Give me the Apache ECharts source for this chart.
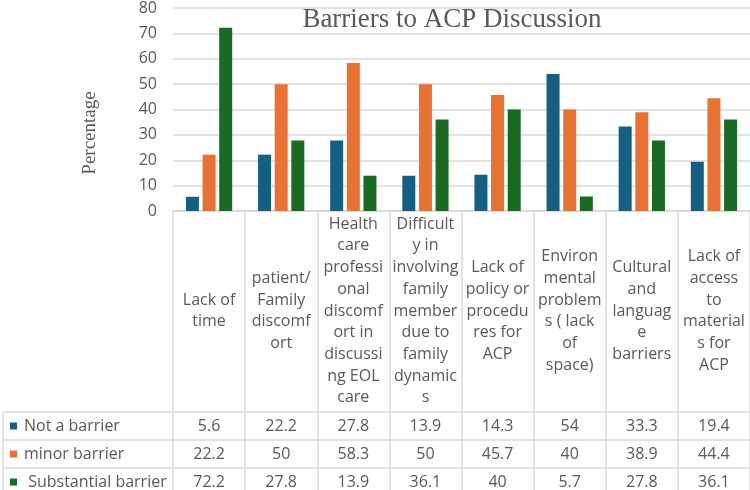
<!DOCTYPE html>
<html>
<head>
<meta charset="utf-8">
<script src="https://cdn.jsdelivr.net/npm/echarts@6/dist/echarts.min.js"></script>
<style>
html,body{margin:0;padding:0;background:#fff;}
#chart{width:750px;height:490px;}
</style>
</head>
<body>
<div id="chart"></div>
<script>
var categories = [
  "Lack of\ntime",
  "patient/\nFamily\ndiscomf\nort",
  "Health\ncare\nprofessi\nonal\ndiscomf\nort in\ndiscussi\nng EOL\ncare",
  "Difficult\ny in\ninvolving\nfamily\nmember\ndue to\nfamily\ndynamic\ns",
  "Lack of\npolicy or\nprocedu\nres for\nACP",
  "Environ\nmental\nproblem\ns ( lack\nof\nspace)",
  "Cultural\nand\nlanguag\ne\nbarriers",
  "Lack of\naccess\nto\nmaterial\ns for\nACP"
];
var seriesNames = ["Not a barrier", "minor barrier", " Substantial barrier"];
var notBarrier = [5.6, 22.2, 27.8, 13.9, 14.3, 54, 33.3, 19.4];
var minorBarrier = [22.2, 50, 58.3, 50, 45.7, 40, 38.9, 44.4];
var substantialBarrier = [72.2, 27.8, 13.9, 36.1, 40, 5.7, 27.8, 36.1];
var yTicks = [0, 10, 20, 30, 40, 50, 60, 70, 80];

var colors = ["#156082", "#E97132", "#196B24"];
var seriesValues = [notBarrier, minorBarrier, substantialBarrier];
var gridColor = "#d9d9d9";
var textColor = "#595959";
var sans = "'Open Sans', 'Noto Sans', sans-serif";
var serif = "'Liberation Serif', 'DejaVu Serif', serif";

var chart = echarts.init(document.getElementById('chart'), null, {renderer: 'canvas'});

var xAxes = [{
  type: 'category',
  gridIndex: 0,
  position: 'bottom',
  data: categories,
  axisLine: {show: true, lineStyle: {color: gridColor, width: 1.5}},
  axisTick: {show: true, length: 290, lineStyle: {color: gridColor, width: 1.5}},
  axisLabel: {
    interval: 0, margin: 100, verticalAlign: 'middle', align: 'center',
    fontFamily: sans, fontSize: 16, lineHeight: 21.7, color: textColor
  },
  splitLine: {show: false}
}];
seriesValues.forEach(function (vals, k) {
  xAxes.push({
    type: 'category',
    gridIndex: 0,
    position: 'bottom',
    offset: 215 + 28 * k,
    data: categories,
    axisLine: {show: false},
    axisTick: {show: false},
    splitLine: {show: false},
    axisLabel: {
      interval: 0, margin: 0, verticalAlign: 'middle', align: 'center',
      fontFamily: sans, fontSize: 16, color: textColor,
      formatter: function (v, i) { return String(vals[i]); }
    }
  });
});

var series = seriesValues.map(function (vals, k) {
  return {
    name: seriesNames[k],
    type: 'bar',
    xAxisIndex: 0,
    data: vals,
    barWidth: 13,
    barGap: '28%',
    itemStyle: {color: colors[k]}
  };
});

chart.setOption({
  animation: false,
  color: colors,
  title: {
    text: 'Barriers to ACP Discussion',
    left: 447,
    top: 0,
    textAlign: 'center',
    textStyle: {fontFamily: serif, fontSize: 27, fontWeight: 'normal', color: textColor, lineHeight: 30}
  },
  legend: {
    orient: 'vertical',
    left: 10,
    top: 418,
    padding: 0,
    itemGap: 12,
    itemWidth: 7,
    itemHeight: 7,
    icon: 'rect',
    selectedMode: false,
    data: seriesNames,
    textStyle: {fontFamily: sans, fontSize: 16, lineHeight: 16, color: textColor, padding: [0, 0, 0, 2]}
  },
  grid: {left: 173, top: 3.8, width: 582, height: 207.2, containLabel: false},
  xAxis: xAxes,
  yAxis: {
    type: 'value',
    min: yTicks[0],
    max: yTicks[yTicks.length - 1],
    interval: 10,
    axisLine: {show: false},
    axisTick: {show: false},
    axisLabel: {fontFamily: sans, fontSize: 16, color: textColor, margin: 16},
    splitLine: {lineStyle: {color: gridColor, width: 1.5}}
  },
  graphic: [
    {type: 'text', x: 90, y: 133, rotation: Math.PI / 2,
     style: {text: 'Percentage', font: '19px ' + serif, fill: textColor, textAlign: 'center', textVerticalAlign: 'middle'}},
    {type: 'line', shape: {x1: 3, y1: 412, x2: 3, y2: 495}, style: {stroke: gridColor, lineWidth: 1.5}},
    {type: 'line', shape: {x1: 3, y1: 412, x2: 760, y2: 412}, style: {stroke: gridColor, lineWidth: 1.5}},
    {type: 'line', shape: {x1: 3, y1: 440, x2: 760, y2: 440}, style: {stroke: gridColor, lineWidth: 1.5}},
    {type: 'line', shape: {x1: 3, y1: 468, x2: 760, y2: 468}, style: {stroke: gridColor, lineWidth: 1.5}}
  ],
  series: series
});
</script>
</body>
</html>
